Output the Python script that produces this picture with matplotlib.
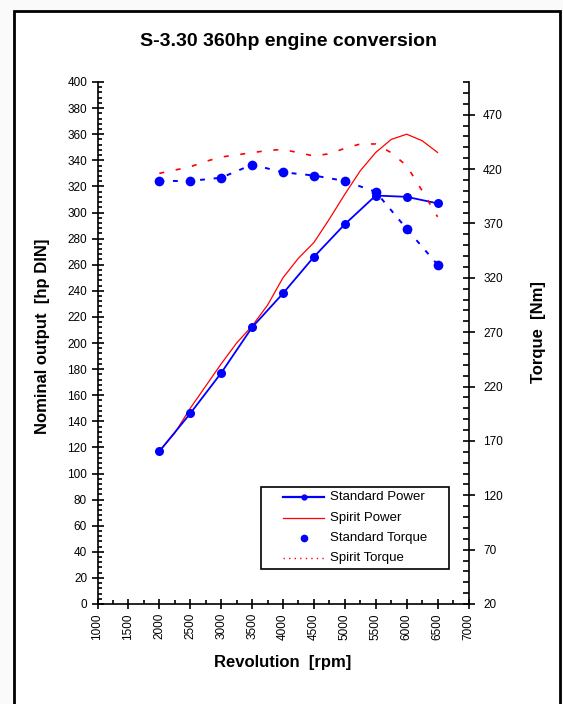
import matplotlib
matplotlib.use("Agg")
import matplotlib.pyplot as plt
from matplotlib.patches import Rectangle
from matplotlib.ticker import MultipleLocator, FixedLocator
from matplotlib.lines import Line2D

plt.rcParams['font.family'] = ['Liberation Sans', 'DejaVu Sans']

# ---- data ----
rpm = [2000, 2500, 3000, 3500, 4000, 4500, 5000, 5500, 6000, 6500]
std_power = [117, 146, 177, 212, 238, 266, 291, 313, 312, 307]
std_torque = [409, 409, 412, 424, 417, 414, 409, 399, 365, 332]

spirit_rpm = [2000, 2250, 2500, 2750, 3000, 3250, 3500, 3750, 4000, 4250,
              4500, 4750, 5000, 5250, 5500, 5750, 6000, 6250, 6500]
spirit_power = [117, 131, 150, 167, 184, 200, 213, 229, 250, 265,
                277, 295, 314, 332, 346, 356, 360, 355, 346]
spirit_torque = [416, 419, 422, 427, 431, 433, 435, 437, 438, 435,
                 432, 434, 439, 443, 443, 435, 423, 400, 376]

title = "S-3.30 360hp engine conversion"
xlabel = "Revolution  [rpm]"
ylabel_left = "Nominal output  [hp DIN]"
ylabel_right = "Torque  [Nm]"
labels = ["Standard Power", "Spirit Power", "Standard Torque", "Spirit Torque"]

W, H = 563, 704
fig = plt.figure(figsize=(W / 100, H / 100), dpi=100)
fig.patch.set_facecolor('#fafafa')

def fx(px):
    return px / W

def fy(py):
    return 1 - py / H

# outer frame
fig.add_artist(Rectangle((fx(14), -0.05), fx(560) - fx(14), 0.05 + fy(11),
                         transform=fig.transFigure, facecolor='white',
                         edgecolor='black', linewidth=2.0, zorder=-5))

left, right, top, bottom = fx(97.5), fx(468.5), fy(82), fy(604)
ax = fig.add_axes([left, bottom, right - left, top - bottom])
ax.set_facecolor('none')
ax2 = ax.twinx()
ax2.set_facecolor('none')

BLUE = '#0000FF'
RED = '#FF0000'

ax.plot(rpm, std_power, color=BLUE, lw=1.3, marker='o', ms=6.5,
        markeredgewidth=0, zorder=3)
ax.plot(spirit_rpm, spirit_power, color=RED, lw=0.9, zorder=2)
ax2.plot(rpm, std_torque, color=BLUE, lw=1.4, ls=(0, (2.5, 4.5)), zorder=3)
ax2.plot(rpm, std_torque, color=BLUE, lw=0, marker='o', ms=7,
         markeredgewidth=0, zorder=4)
ax2.plot(spirit_rpm, spirit_torque, color=RED, lw=1.2,
         ls=(0, (3, 7)), zorder=2)

ax.set_xlim(1000, 7000)
ax.set_ylim(0, 400)
ax2.set_ylim(20, 500)

ax.xaxis.set_major_locator(MultipleLocator(500))
ax.xaxis.set_minor_locator(MultipleLocator(250))
ax.yaxis.set_major_locator(MultipleLocator(20))
ax.yaxis.set_minor_locator(MultipleLocator(4))
ax2.yaxis.set_major_locator(FixedLocator(list(range(20, 471, 50))))
ax2.yaxis.set_minor_locator(MultipleLocator(10))

for a in (ax, ax2):
    a.spines['top'].set_visible(False)
    for s in a.spines.values():
        s.set_linewidth(1.2)
ax.spines['right'].set_visible(False)
ax2.spines['left'].set_visible(False)
ax2.spines['bottom'].set_visible(False)

ax.tick_params(axis='x', which='major', direction='inout', length=7, width=1.2,
               labelsize=8.5, pad=3, labelrotation=90)
ax.tick_params(axis='x', which='minor', direction='in', length=3, width=1.2)
ax.tick_params(axis='y', which='major', direction='inout', length=9, width=1.2,
               labelsize=8.5, pad=3)
ax.tick_params(axis='y', which='minor', direction='in', length=3, width=1.2)
ax2.tick_params(axis='y', which='major', direction='inout', length=9, width=1.2,
                labelsize=8.5, pad=6)
ax2.tick_params(axis='y', which='minor', direction='in', length=4, width=1.2)

fig.text(fx(288), fy(41), title, ha='center', va='center',
         fontsize=14, fontweight='bold')
fig.text(fx(283), fy(662), xlabel, ha='center', va='center',
         fontsize=12, fontweight='bold')
fig.text(fx(43), fy(336), ylabel_left, ha='center', va='center',
         fontsize=12, fontweight='bold', rotation=90)
fig.text(fx(538), fy(332), ylabel_right, ha='center', va='center',
         fontsize=12, fontweight='bold', rotation=90)

# legend (drawn manually to match the box geometry)
fig.add_artist(Rectangle((fx(260.5), fy(569)), fx(449) - fx(260.5), fy(487) - fy(569),
                         transform=fig.transFigure, facecolor='white',
                         edgecolor='black', linewidth=1.2, zorder=5))
row_y = [497, 518, 538, 558]
hx0, hx1, tx = 283, 324, 330
styles = [dict(color=BLUE, lw=1.6), dict(color=RED, lw=0.9),
          None, dict(color=RED, lw=1.0, ls=(0, (1, 3)))]
for lab, yy, st in zip(labels, row_y, styles):
    if st is not None:
        fig.add_artist(Line2D([fx(hx0), fx(hx1)], [fy(yy), fy(yy)],
                              transform=fig.transFigure, zorder=6, **st))
    fig.text(fx(tx), fy(yy), lab, ha='left', va='center', fontsize=9.5, zorder=7)
fig.add_artist(Line2D([fx((hx0 + hx1) / 2)], [fy(row_y[0])], marker='o', ms=3.5,
                      color=BLUE, lw=0, transform=fig.transFigure, zorder=7))
fig.add_artist(Line2D([fx((hx0 + hx1) / 2)], [fy(row_y[2])], marker='o', ms=4.5,
                      color=BLUE, lw=0, transform=fig.transFigure, zorder=7))

fig.savefig("out.png", dpi=100, facecolor=fig.get_facecolor())
